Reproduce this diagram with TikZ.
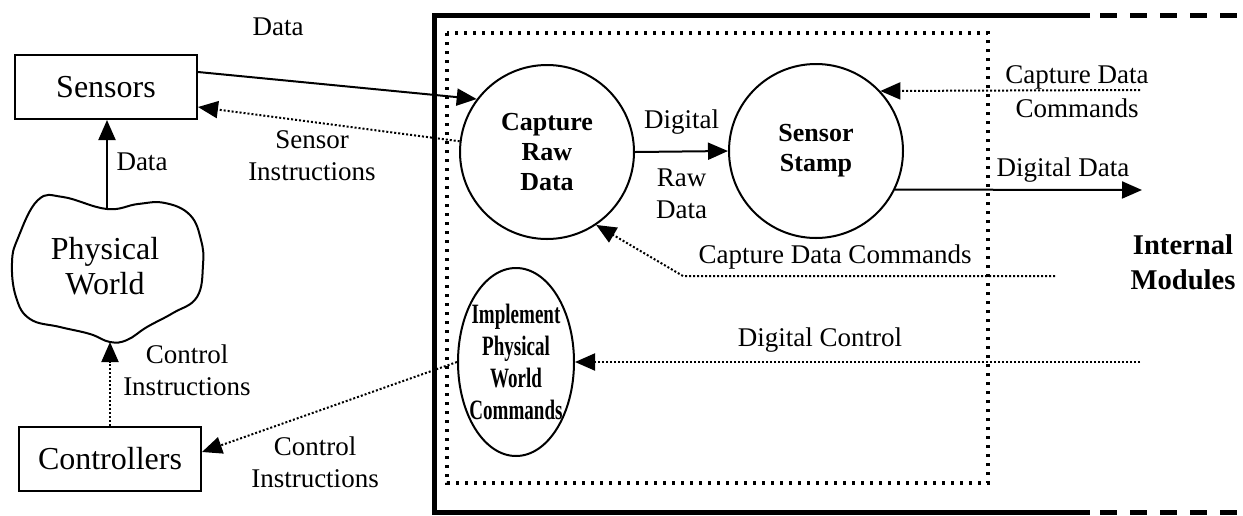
\documentclass[tikz,border=0pt]{standalone}
\usepackage{fontspec}
\setmainfont{Liberation Serif}
\usetikzlibrary{arrows.meta,shapes.geometric}

\newcommand{\narrowtxt}[1]{\scalebox{0.68}[1]{#1}}

\tikzset{
  unit/.style={rectangle,draw,line width=1pt,minimum width=91pt,minimum height=32pt,font=\fontsize{16}{18}\selectfont},
  proc/.style={circle,draw,line width=1pt,minimum size=87pt,inner sep=0pt,align=center,font=\fontsize{13}{15}\selectfont\bfseries},
  lbl/.style={align=center,inner sep=0pt,font=\fontsize{13.5}{16}\selectfont},
  flow/.style={line width=1pt,-{Triangle[length=10pt,width=8.5pt]}},
  cmd/.style={flow,densely dotted},
}

\begin{document}
\begin{tikzpicture}[x=0.5pt,y=-0.5pt]
\useasboundingbox (0,0) rectangle (1243,515);
% heavy frame, open to the right
\draw[line width=2.5pt] (1090,15) -- (434,15) -- (434,512) -- (1090,512);
\draw[line width=2.5pt,dash pattern=on 8.5pt off 6.5pt] (1100,15) -- (1243,15);
\draw[line width=2.5pt,dash pattern=on 8.5pt off 6.5pt] (1100,512) -- (1243,512);
% module boundary
\draw[line width=1.6pt,dash pattern=on 1.6pt off 2.9pt] (447,33) rectangle (988,483);

% outside world
\node[unit] (sens) at (106,87) {Sensors};
\node[unit] (ctrl) at (110,459) {Controllers};
\draw[line width=1pt] plot[smooth cycle,tension=0.7] coordinates {
  (12,263) (18,238) (38,200) (63,197) (107,209) (138,204) (165,203) (190,215)
  (201,240) (203,265) (197,297) (173,313) (147,327) (127,340) (110,342)
  (90,334) (60,327) (30,319) (16,297)};
\node[lbl,font=\fontsize{16}{17.5}\selectfont] (world) at (105,266) {Physical\\World};
\coordinate (wtop) at (107,209);
\coordinate (wbot) at (110,342);

% processes
\node[proc] (cap) at (547,152) {Capture\\Raw\\Data};
\node[proc] (stamp) at (816,151) {Sensor\\Stamp};
\node[proc,ellipse,inner xsep=-9pt,minimum width=58pt,minimum height=94pt,font=\fontsize{14}{16}\selectfont\bfseries] (impl) at (516,362)
  {\narrowtxt{Implement}\\\narrowtxt{Physical}\\\narrowtxt{World}\\\narrowtxt{Commands}};

% free ends on the right
\coordinate (cdcin) at (1140,90);
\coordinate (ddout) at (1142,190);
\coordinate (cmdin) at (1055,276);
\coordinate (cmdbend) at (683,276);
\coordinate (dcin) at (1140,362);

% flows
\draw[flow] ([yshift=7.5pt]sens.east) -- (cap.143);
\draw[cmd] (cap.173) -- ([yshift=-10pt]sens.east);
\draw[flow] (wtop) -- (wtop |- sens.south);
\draw[cmd] (ctrl.north) -- (wbot);
\draw[cmd] (impl.west) -- ([yshift=3.5pt]ctrl.east);
\draw[flow] (cap.east) -- (stamp.west)
  node[midway,above=8pt,lbl] {Digital}
  node[midway,below=8pt,lbl] {Raw\\Data};
\draw[flow] (stamp.334) -- (ddout);
\draw[cmd] (cdcin) -- (stamp.43);
\draw[cmd] (cmdin) -- (cmdbend) -- (cap.304);
\draw[cmd] (dcin) -- (impl.east);

% labels
\node[lbl] (ldata) at (278,27) {Data};
\node[lbl] (linstr) at (312,156) {Sensor\\Instructions};
\node[lbl] (ldata2) at (142,162) {Data};
\node[lbl] (lctrl) at (187,370) {Control\\Instructions};
\node[lbl] (lctrl2) at (315,462) {Control\\Instructions};
\node[lbl,font=\fontsize{13.5}{17}\selectfont] (lcdc) at (1077,92) {Capture Data\\Commands};
\node[lbl] (ldd) at (1063,170) {Digital Data};
\node[lbl] (lcmd) at (835,257) {Capture Data Commands};
\node[lbl] (ldc) at (820,340) {Digital Control};
\node[lbl,font=\fontsize{14.3}{17.5}\selectfont\bfseries] (lmod) at (1183,262) {Internal\\Modules};
\end{tikzpicture}
\end{document}
